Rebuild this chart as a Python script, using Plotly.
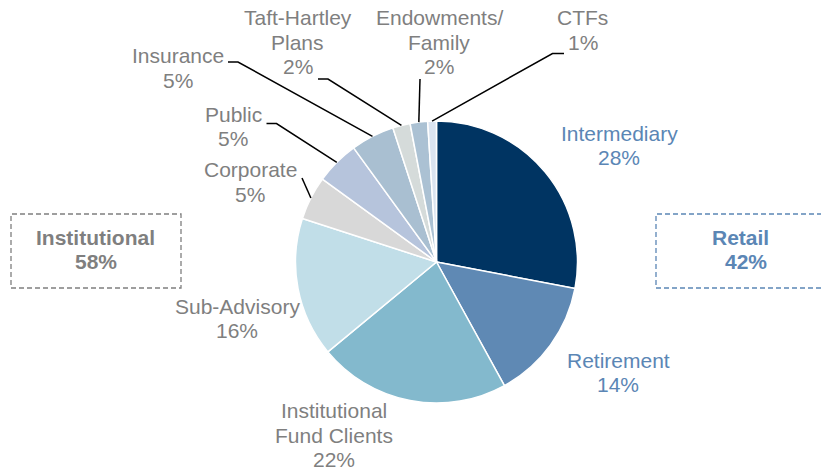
import math
import plotly.graph_objects as go

# ---------------- data ----------------
categories = ["Intermediary", "Retirement", "Institutional Fund Clients", "Sub-Advisory",
              "Corporate", "Public", "Insurance", "Taft-Hartley Plans",
              "Endowments/Family", "CTFs"]
values = [28, 14, 22, 16, 5, 5, 5, 2, 2, 1]
label_lines = [["Intermediary"], ["Retirement"], ["Institutional", "Fund Clients"],
               ["Sub-Advisory"], ["Corporate"], ["Public"], ["Insurance"],
               ["Taft-Hartley", "Plans"], ["Endowments/", "Family"], ["CTFs"]]
retail_categories = ["Intermediary", "Retirement"]

# ---------------- style ----------------
colors = ["#003462", "#5f89b4", "#83b9cd", "#c1dee8", "#d8d8d8", "#b6c4dc",
          "#a9bfd1", "#d5dbda", "#abc1d3", "#dbe4f0"]
GRAY = "#7f7f7f"
BLUE = "#5b86b5"
FONT = "Liberation Sans, Arial, sans-serif"
W, H = 821, 470
CX, CY, R = 436.5, 262.0, 141.0
LINE_GAP = 24.5
FS = 21


def px(x):
    return x / W


def py(y):
    return 1 - y / H


# label placement (first-line centre in pixels) and text colour
label_pos = {
    "Intermediary": (619, 133, BLUE),
    "Retirement": (618, 360, BLUE),
    "Institutional Fund Clients": (334, 410.5, GRAY),
    "Sub-Advisory": (237.5, 306, GRAY),
    "Corporate": (250, 169.5, GRAY),
    "Public": (233, 114.5, GRAY),
    "Insurance": (177.5, 56, GRAY),
    "Taft-Hartley Plans": (297.5, 17.5, GRAY),
    "Endowments/Family": (439, 17.5, GRAY),
    "CTFs": (582.5, 17.5, GRAY),
}
# leader-line start points (pixels) before reaching the slice
leader_path = {
    "Corporate": [(302, 178)],
    "Public": [(266.5, 123.5), (276.5, 123.5)],
    "Insurance": [(228, 62), (238, 62)],
    "Taft-Hartley Plans": [(318, 79), (328, 79)],
    "Endowments/Family": [(420, 79)],
    "CTFs": [(564, 53.5), (552.5, 53.5)],
}

fig = go.Figure(go.Pie(
    labels=categories, values=values, sort=False, direction="clockwise", rotation=0,
    marker=dict(colors=colors, line=dict(color="white", width=1.5)),
    textinfo="none", hoverinfo="label+percent", showlegend=False,
    domain=dict(x=[px(CX - R), px(CX + R)], y=[py(CY + R), py(CY - R)]),
))

annotations = []
shapes = []
total = sum(values)
cum = 0
for cat, v, lines in zip(categories, values, label_lines):
    mid = (cum + v / 2) / total
    cum += v
    x0, y0, col = label_pos[cat]
    for i, t in enumerate(lines + [f"{v}%"]):
        annotations.append(dict(x=px(x0), y=py(y0 + i * LINE_GAP), xref="paper", yref="paper",
                                text=t, showarrow=False, xanchor="center", yanchor="middle",
                                font=dict(family=FONT, size=FS, color=col)))
    if cat in leader_path:
        ang = mid * 2 * math.pi
        ex, ey = CX + R * math.sin(ang), CY - R * math.cos(ang)
        pts = leader_path[cat] + [(ex, ey)]
        path = "M " + " L ".join(f"{px(a):.5f},{py(b):.5f}" for a, b in pts)
        shapes.append(dict(type="path", path=path, xref="paper", yref="paper",
                           line=dict(color="black", width=1.5)))

retail = sum(v for c, v in zip(categories, values) if c in retail_categories)
inst = total - retail

# group boxes
shapes.append(dict(type="rect", xref="paper", yref="paper", x0=px(11), x1=px(181),
                   y0=py(288), y1=py(214), line=dict(color=GRAY, width=1.3, dash="5px,3px")))
shapes.append(dict(type="rect", xref="paper", yref="paper", x0=px(656), x1=px(830),
                   y0=py(288), y1=py(214), line=dict(color=BLUE, width=1.3, dash="5px,3px")))
for t, x, y, col in [("Institutional", 95.5, 238, GRAY), (f"{inst}%", 95.5, 261, GRAY),
                     ("Retail", 740, 238, BLUE), (f"{retail}%", 746, 261, BLUE)]:
    annotations.append(dict(x=px(x), y=py(y), xref="paper", yref="paper", text=f"<b>{t}</b>",
                            showarrow=False, xanchor="center", yanchor="middle",
                            font=dict(family=FONT, size=21, color=col)))

fig.update_layout(width=W, height=H, margin=dict(l=0, r=0, t=0, b=0),
                  paper_bgcolor="white", plot_bgcolor="white",
                  annotations=annotations, shapes=shapes)
fig.write_html("out.html", config={"displayModeBar": False},
               post_script="document.body.style.margin='0';document.body.style.overflow='hidden';")
